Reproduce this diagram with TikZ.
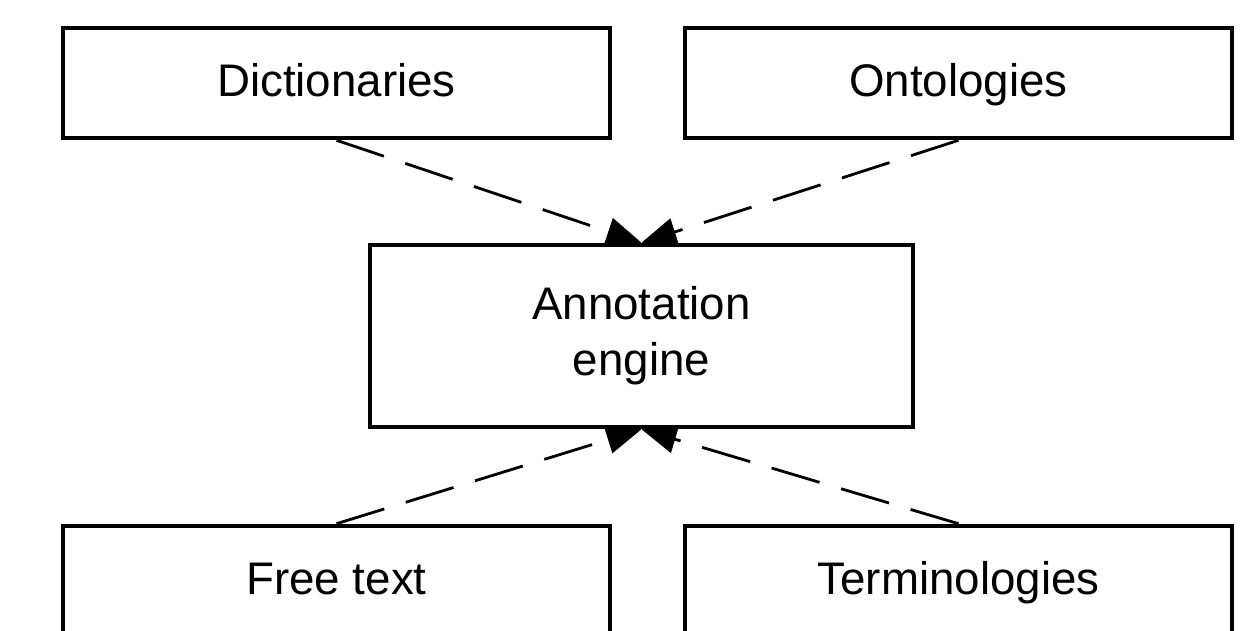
\documentclass[tikz,border=0pt]{standalone}
\usepackage{fontspec}
\setmainfont{Liberation Sans}
\usepackage{tikz}
\usetikzlibrary{arrows.meta}
\tikzstyle{srcbox} = [draw=black, fill=white, line width=2.6pt, rectangle,
minimum width=10.94cm, minimum height=2.2cm, inner sep=0pt,
text height=20pt, text depth=5.2pt, font=\fontsize{26}{32}\selectfont]
\tikzstyle{engbox} = [draw=black, fill=white, line width=2.6pt, rectangle,
minimum width=10.86cm, minimum height=3.64cm, inner sep=0pt, align=center,
font=\fontsize{26}{32}\selectfont]
\tikzstyle{feed} = [line width=1.6pt, dash pattern=on 1cm off 0.45cm,
-{Triangle[length=0.7cm, width=0.56cm]}]

\begin{document}
\begin{tikzpicture}
        \useasboundingbox (0,0) rectangle (25.2,-12.6);
        \node [srcbox] (dict) at (6.73,-1.66) {Dictionaries};
        \node [srcbox] (onto) at (19.17,-1.66) {Ontologies};
        \node [engbox] (eng) at (12.83,-6.72) {Annotation\\engine};
        \node [srcbox] (free) at (6.73,-11.62) {Free text};
        \node [srcbox] (term) at (19.17,-11.62) {Terminologies};
        \draw [feed] (dict.south) -- (eng.north);
        \draw [feed] (onto.south) -- (eng.north);
        \draw [feed] (free.north) -- (eng.south);
        \draw [feed] (term.north) -- (eng.south);
    \end{tikzpicture}
\end{document}
